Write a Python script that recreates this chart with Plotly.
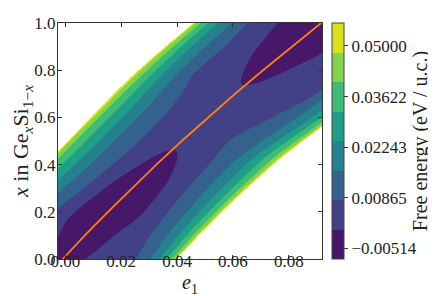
import numpy as np
import plotly.graph_objects as go

# ---------------- data ----------------
# orange line (e1 versus Ge fraction x)
line_x = [0.0, 0.1, 0.2, 0.3, 0.4, 0.5, 0.6, 0.7, 0.8, 0.9, 1.0]
line_e1 = [-0.0009, 0.0070, 0.0153, 0.0238, 0.0326, 0.0417, 0.0511, 0.0608, 0.0708, 0.0810, 0.0916]

# free energy at the bottom of the valley (along the line), eV/u.c.
floor_F = [-0.0008, -0.0020, -0.0045, -0.0036, -0.0012, 0.0006, 0.0015, 0.0004, -0.0007, -0.0026, -0.0042]

# horizontal distance (in e1) from the line to the 2nd contour level
lev2_left = [0.0210, 0.0210, 0.0195, 0.0172, 0.0157, 0.0152, 0.0162, 0.0192, 0.0235, 0.0240, 0.0265]
lev2_right = [0.0262, 0.0235, 0.0215, 0.0200, 0.0188, 0.0170, 0.0230, 0.0290, 0.0300, 0.0305, 0.0310]

# distances to the outer contour levels (L3..L7) and to the edge of the data (white)
band_x = [0.0, 0.2, 0.4, 0.6, 0.8, 1.0]
left_L3 = [0.0265, 0.0255, 0.0238, 0.0252, 0.0295, 0.0320]
left_L4 = [0.0305, 0.0300, 0.0292, 0.0307, 0.0345, 0.0370]
left_L5 = [0.0340, 0.0338, 0.0337, 0.0353, 0.0383, 0.0405]
left_L6 = [0.0362, 0.0366, 0.0373, 0.0390, 0.0415, 0.0432]
left_L7 = [0.0375, 0.0381, 0.0392, 0.0410, 0.0437, 0.0450]
left_end = [0.0380, 0.0388, 0.0400, 0.0420, 0.0447, 0.0458]
right_L3 = [0.0313, 0.0282, 0.0268, 0.0320, 0.0365, 0.0380]
right_L4 = [0.0347, 0.0327, 0.0320, 0.0372, 0.0405, 0.0420]
right_L5 = [0.0371, 0.0361, 0.0360, 0.0405, 0.0432, 0.0445]
right_L6 = [0.0391, 0.0387, 0.0392, 0.0430, 0.0450, 0.0458]
right_L7 = [0.0403, 0.0402, 0.0410, 0.0445, 0.0460, 0.0466]
right_end = [0.0409, 0.0411, 0.0420, 0.0452, 0.0465, 0.0470]

# contour levels and ticks
level_start = -0.00800
level_step = 0.00803
n_bands = 8
cbar_ticks = [-0.00514, 0.00865, 0.02243, 0.03622, 0.05000]
x_ticks = [0.00, 0.02, 0.04, 0.06, 0.08]
y_ticks = [0.0, 0.2, 0.4, 0.6, 0.8, 1.0]
e1_range = [-0.0026, 0.0919]
x_range = [0.0, 1.0]

band_colors = ['#471769', '#424086', '#34628d', '#26818e',
               '#1f9f88', '#3fbc73', '#82d34c', '#d7e21b']


def pchip(xk, yk, xq):
    xk = np.asarray(xk, float)
    yk = np.asarray(yk, float)
    h = np.diff(xk)
    dl = np.diff(yk) / h
    n = len(xk)
    m = np.zeros(n)
    for i in range(1, n - 1):
        if dl[i - 1] * dl[i] > 0:
            w1 = 2 * h[i] + h[i - 1]
            w2 = h[i] + 2 * h[i - 1]
            m[i] = (w1 + w2) / (w1 / dl[i - 1] + w2 / dl[i])
    m[0] = dl[0]
    m[-1] = dl[-1]
    idx = np.clip(np.searchsorted(xk, xq) - 1, 0, n - 2)
    t = (xq - xk[idx]) / h[idx]
    h00 = 2 * t**3 - 3 * t**2 + 1
    h10 = t**3 - 2 * t**2 + t
    h01 = -2 * t**3 + 3 * t**2
    h11 = t**3 - t**2
    return h00 * yk[idx] + h10 * h[idx] * m[idx] + h01 * yk[idx + 1] + h11 * h[idx] * m[idx + 1]


levels = level_start + level_step * np.arange(n_bands + 1)

# ---------------- build the free-energy table ----------------
e1g = np.linspace(e1_range[0], e1_range[1], 380)
xg = np.linspace(x_range[0], x_range[1], 330)

centre = pchip(line_x, line_e1, xg)
F0 = pchip(line_x, floor_F, xg)


def side_knots(l2, outer):
    k = [pchip(line_x, l2, xg)] + [pchip(band_x, o, xg) for o in outer]
    k = np.stack(k, axis=1)
    for j in range(1, k.shape[1]):
        k[:, j] = np.maximum(k[:, j], k[:, j - 1] + 1e-5)
    return k


kl = side_knots(lev2_left, [left_L3, left_L4, left_L5, left_L6, left_L7, left_end])
kr = side_knots(lev2_right, [right_L3, right_L4, right_L5, right_L6, right_L7, right_end])
knot_levels = np.array(list(levels[2:8]) + [levels[8] - 2e-4])

Z = np.empty((len(xg), len(e1g)))
for i in range(len(xg)):
    d = e1g - centre[i]
    a = np.abs(d)
    out = []
    for k in (kl[i], kr[i]):
        inner = F0[i] + (levels[2] - F0[i]) * (a / k[0]) ** 2
        outer = np.interp(a, k, knot_levels)
        f = np.where(a < k[0], inner, outer)
        f = np.where(a > k[-1], 1.0, f)
        out.append(f)
    Z[i] = np.where(d < 0, out[0], out[1])
Z = np.round(Z, 6)

# colour scale for the filled contours (bands + white above the top level)
nlev = n_bands + 1
fill_scale = [[0.0, band_colors[0]]]
for j in range(n_bands):
    fill_scale.append([(j + 1) / nlev, band_colors[j]])
fill_scale.append([1.0, '#ffffff'])

bar_scale = []
for j in range(n_bands):
    bar_scale.append([j / n_bands, band_colors[j]])
    bar_scale.append([(j + 1) / n_bands, band_colors[j]])

font_family = 'Liberation Serif'
tick_size = 17
text_color = '#222'

fig = go.Figure()
fig.add_trace(go.Contour(
    x=e1g, y=xg, z=Z,
    autocontour=False,
    contours=dict(start=levels[0], end=levels[-1], size=level_step,
                  coloring='fill', showlines=False),
    colorscale=fill_scale, showscale=False,
    line=dict(width=0), hoverinfo='skip'))

fig.add_trace(go.Scatter(
    x=line_e1, y=line_x, mode='lines',
    line=dict(color='#ff7f0e', width=1.8), hoverinfo='skip'))

fig.add_trace(go.Scatter(
    x=[None, None], y=[None, None], mode='markers',
    marker=dict(color=[levels[0], levels[-1]], colorscale=bar_scale,
                cmin=levels[0], cmax=levels[-1], showscale=True, size=1,
                colorbar=dict(
                    x=1.038, xanchor='left', xpad=0, ypad=0,
                    y=0.5, yanchor='middle', len=1, lenmode='fraction',
                    thickness=12, thicknessmode='pixels',
                    outlinewidth=1, outlinecolor='#444',
                    tickvals=cbar_ticks, tickformat='.5f',
                    ticks='outside', ticklen=4, tickwidth=1, tickcolor='#333',
                    tickfont=dict(family=font_family, size=tick_size, color=text_color),
                    title=dict(text='Free energy (eV / u.c.)', side='right',
                               font=dict(family=font_family, size=20, color=text_color)))),
    hoverinfo='skip'))

axis_common = dict(ticks='inside', ticklen=4, tickwidth=1, tickcolor='#333',
                   showline=True, linewidth=1, linecolor='#333', mirror='ticks',
                   showgrid=False, zeroline=False, ticklabeloverflow='allow',
                   tickfont=dict(family=font_family, size=tick_size, color=text_color))

fig.update_xaxes(range=e1_range, tickvals=x_ticks, tickformat='.2f',
                 ticklabelstandoff=-13,
                 title=dict(text='<i>e</i><sub>1</sub>', standoff=0,
                            font=dict(family=font_family, size=20, color=text_color)),
                 **axis_common)
fig.update_yaxes(range=x_range, tickvals=y_ticks, tickformat='.1f',
                 ticklabelstandoff=-2,
                 title=dict(text='<i>x</i> in Ge<sub><i>x</i></sub>Si<sub>1\u2212<i>x</i></sub>',
                            standoff=5,
                            font=dict(family=font_family, size=22, color=text_color)),
                 **axis_common)

fig.update_layout(width=436, height=296, margin=dict(l=49, r=122, t=6, b=45),
                  plot_bgcolor='white', paper_bgcolor='white', showlegend=False,
                  font=dict(family=font_family, size=tick_size, color=text_color))

fig.write_html('out.html')
